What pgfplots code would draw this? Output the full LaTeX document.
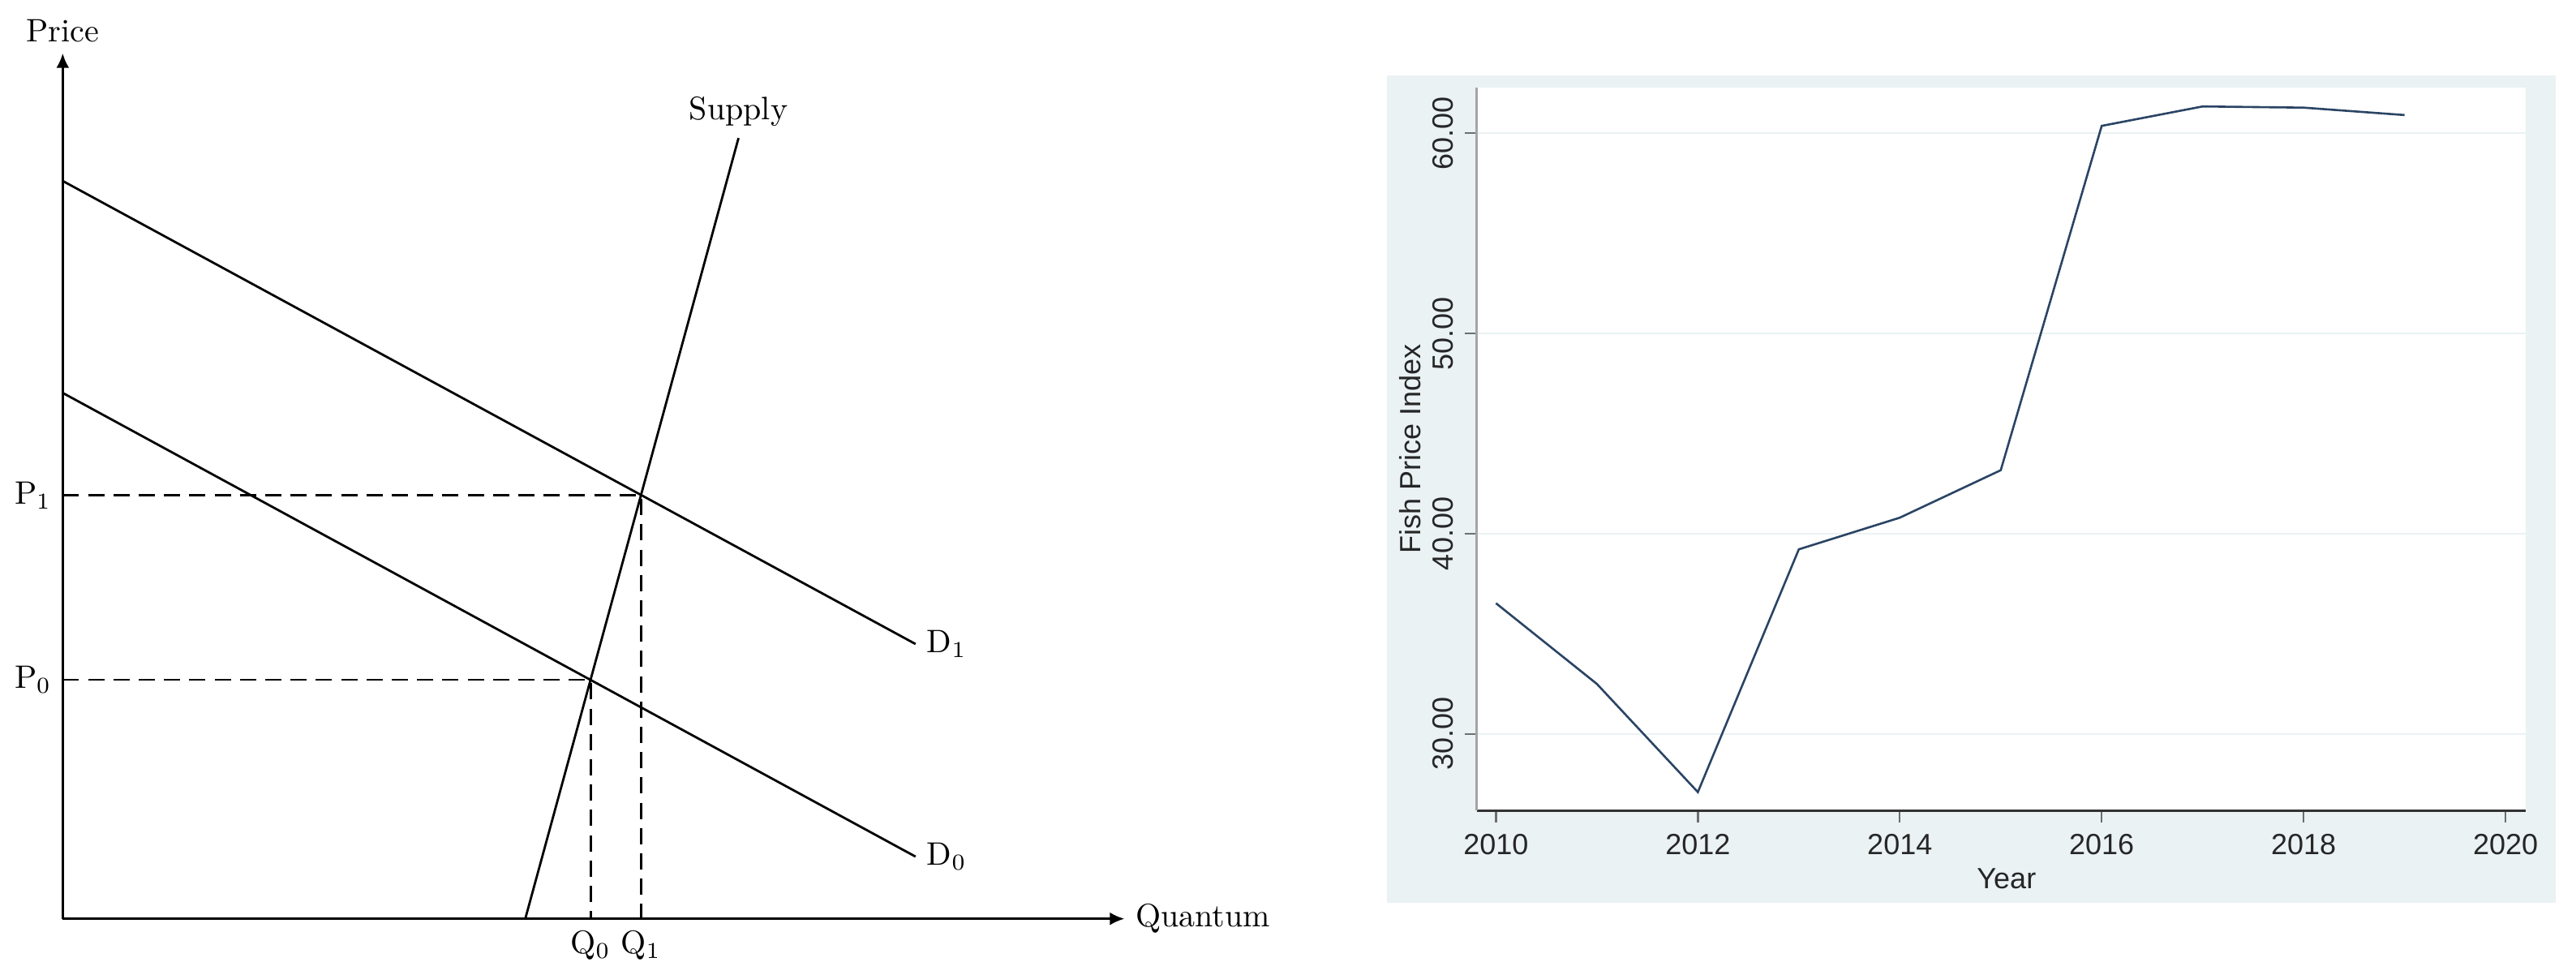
\documentclass[border=0pt]{standalone}
\usepackage{fontspec}
\usepackage{pgfplots}
\pgfplotsset{compat=1.18}
\usetikzlibrary{arrows.meta}
\newfontfamily\arialfont{Liberation Sans}
\definecolor{statabg}{RGB}{234,242,243}
\definecolor{navyline}{RGB}{42,68,100}
\definecolor{xaxiscol}{RGB}{50,50,50}
\definecolor{yaxiscol}{RGB}{165,165,165}
\definecolor{tickcol}{RGB}{110,110,110}
\newcommand{\statafont}{\arialfont\fontsize{9}{10.8}\selectfont}
\begin{document}
\begin{tikzpicture}
\useasboundingbox (0,0) rectangle (794pt,300.25pt);
\fill[statabg] (427.5pt,22.07pt) rectangle (787.75pt,277pt);

% supply and demand sketch
\begin{axis}[at={(19.33pt,17.08pt)}, anchor=south west, scale only axis,
  width=327.25pt, height=266.75pt,
  xmin=0, xmax=1309, ymin=0, ymax=1067,
  axis lines=left, ticks=none, clip=false,
  axis line style={line width=0.7pt, -{Latex[length=4.5pt,width=4pt]}}]
\addplot[black, line width=0.7pt, no marks] coordinates {(0,909.6) (1051.5,338.7)};
\addplot[black, line width=0.7pt, no marks] coordinates {(0,648.3) (1051.5,76.6)};
\addplot[black, line width=0.7pt, no marks] coordinates {(570.3,0) (833.2,962.5)};
\addplot[black, line width=0.7pt, no marks, dash pattern=on 5pt off 2.8pt]
  coordinates {(0,522.1) (712.9,522.1) (712.9,0)};
\addplot[black, line width=0.7pt, no marks, dash pattern=on 5pt off 2.8pt]
  coordinates {(0,294.6) (650.8,294.6) (650.8,0)};
\node[above] at (axis cs:0,1067) {Price};
\node[right] at (axis cs:1309,0) {Quantum};
\node[above] at (axis cs:833.2,962.5) {Supply};
\node[right] at (axis cs:1051.5,338.7) {D$_1$};
\node[right] at (axis cs:1051.5,76.6) {D$_0$};
\node[left] at (axis cs:0,522.1) {P$_1$};
\node[left] at (axis cs:0,294.6) {P$_0$};
\node[below] at (axis cs:650.8,0) {Q$_0$};
\node[below] at (axis cs:712.9,0) {Q$_1$};
\end{axis}

% fish price index
\begin{axis}[at={(455.175pt,50.5pt)}, anchor=south west, scale only axis,
  width=323.325pt, height=222.75pt,
  xmin=2009.81, xmax=2020.2, ymin=26.19, ymax=62.27,
  axis lines=left, axis line style={-},
  x axis line style={color=xaxiscol, line width=0.75pt},
  y axis line style={color=yaxiscol, line width=0.65pt},
  axis background/.style={fill=white},
  xtick={2010,2012,...,2020}, ytick={30,40,50,60},
  tick align=outside, major tick length=3.7pt,
  tick style={color=tickcol, line width=0.6pt},
  ymajorgrids, major grid style={color=statabg, line width=0.65pt},
  /pgf/number format/assume math mode=true,
  ticklabel style={font=\statafont, text=black!85},
  x tick label style={/pgf/number format/1000 sep={}},
  y tick label style={rotate=90, /pgf/number format/.cd, fixed, fixed zerofill, precision=2},
  xlabel={Year}, ylabel={Fish Price Index},
  xlabel style={at={(axis description cs:0.505,-0.0943)}, anchor=center, font=\statafont, text=black!85},
  ylabel style={at={(axis description cs:-0.0637,0.5)}, anchor=center, font=\statafont, text=black!85}]
\addplot[color=navyline, line width=0.65pt, no marks] coordinates {
  (2010,36.53) (2011,32.5) (2012,27.1) (2013,39.22) (2014,40.8)
  (2015,43.17) (2016,60.36) (2017,61.33) (2018,61.27) (2019,60.9)};
\end{axis}
\end{tikzpicture}
\end{document}
